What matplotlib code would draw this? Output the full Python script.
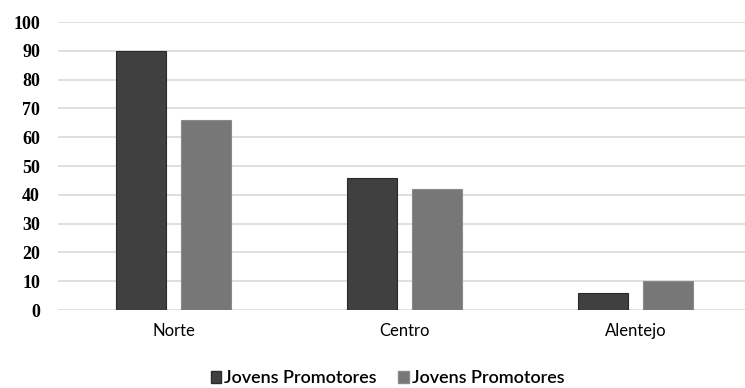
import numpy as np
import matplotlib
matplotlib.use('Agg')
import matplotlib.pyplot as plt
from matplotlib.patches import Patch

# regiões e valores das duas séries
regioes = ['Norte', 'Centro', 'Alentejo']
serie_a = [90, 46, 6]
serie_b = [66, 42, 10]
nomes = ['Jovens Promotores', 'Jovens Promotores']
y_ticks = list(range(0, 101, 10))

cor_a = '#404040'
cor_b = '#777777'

fig = plt.figure(figsize=(7.45, 3.88), dpi=100)
ax = fig.add_axes([0.078, 0.201, 0.922, 0.742])

x = np.arange(len(regioes))
largura = 0.217
desloc = 0.141

ax.bar(x - desloc, serie_a, width=largura, color=cor_a, edgecolor='#2a2a2a', linewidth=0.8, zorder=3)
ax.bar(x + desloc, serie_b, width=largura, color=cor_b, edgecolor='#8a8a8a', linewidth=0.8, zorder=3)

ax.set_ylim(0, 100)
ax.set_xlim(-0.5, 2.474)
ax.set_yticks(y_ticks)
ax.set_yticklabels([str(v) for v in y_ticks], fontfamily='Liberation Serif',
                   fontweight='bold', fontsize=13)
ax.set_xticks(x)
ax.set_xticklabels(regioes, fontfamily='Lato', fontsize=12)
ax.tick_params(axis='both', length=0)
ax.tick_params(axis='y', pad=13)
ax.tick_params(axis='x', pad=9)

ax.grid(axis='y', color='#d9d9d9', linewidth=1.2, zorder=0)
for s in ax.spines.values():
    s.set_visible(False)

handles = [Patch(facecolor=cor_a, edgecolor='#2a2a2a'),
           Patch(facecolor=cor_b, edgecolor='#8a8a8a')]
fig.legend(handles, nomes, loc='center', bbox_to_anchor=(0.52, 0.025), ncol=2,
           frameon=False, prop={'family': 'Lato', 'size': 13, 'weight': 'semibold'},
           handlelength=0.6, handleheight=0.6, handletextpad=0.15, columnspacing=1.2)

fig.savefig('out.png', dpi=100)
